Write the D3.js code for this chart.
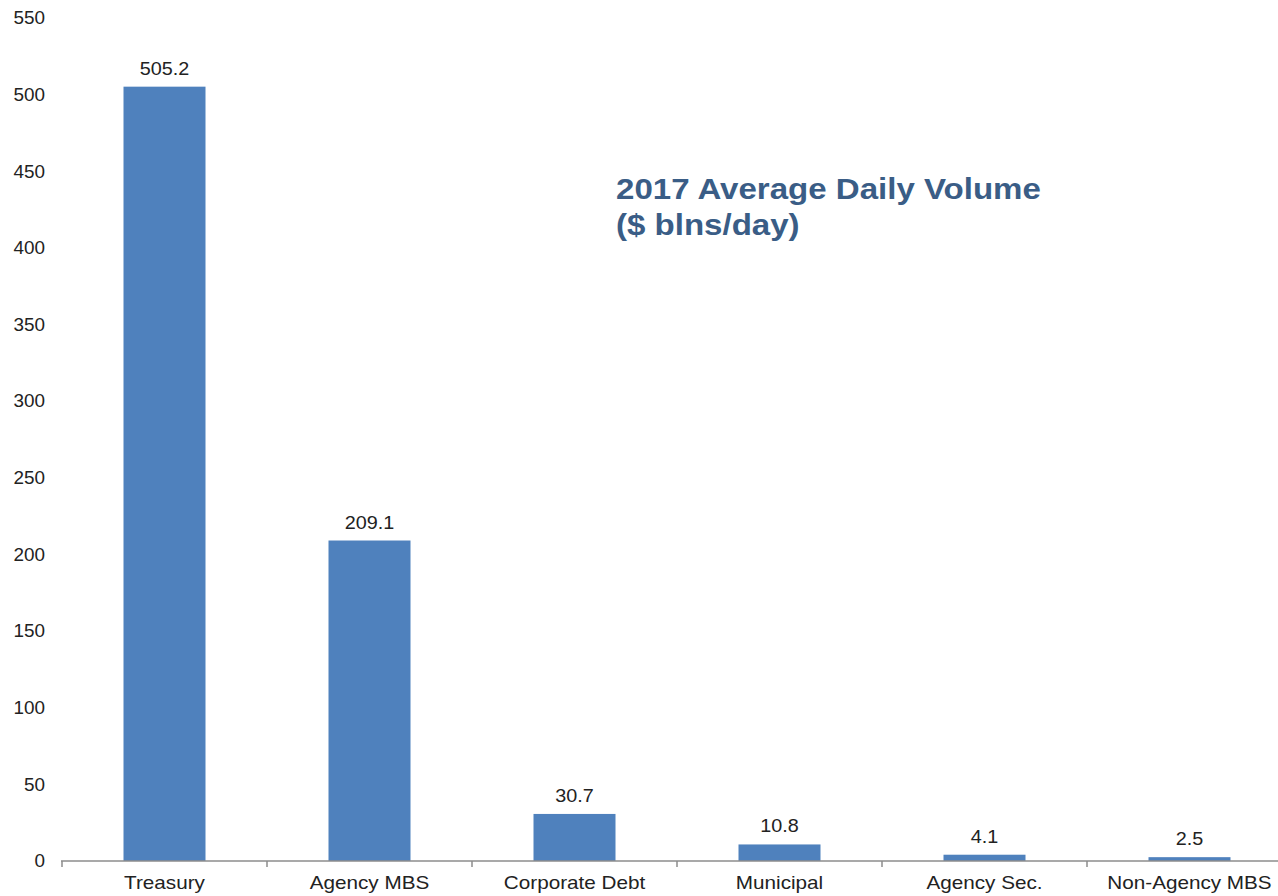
<!DOCTYPE html>
<html>
<head>
<meta charset="utf-8">
<script src="https://cdn.jsdelivr.net/npm/d3@7"></script>
<style>
  html, body { margin: 0; padding: 0; background: #fff; }
  svg { display: block; font-family: "Liberation Sans", Arial, sans-serif; }
</style>
</head>
<body>
<svg id="chart" width="1278" height="896"></svg>
<script>
// Average daily trading volume by market, 2017 ($ billions/day)
const categories = ["Treasury", "Agency MBS", "Corporate Debt", "Municipal", "Agency Sec.", "Non-Agency MBS"];
const volumes = [505.2, 209.1, 30.7, 10.8, 4.1, 2.5];
const yTicks = [0, 50, 100, 150, 200, 250, 300, 350, 400, 450, 500, 550];
const titleLines = ["2017 Average Daily Volume", "($ blns/day)"];

const svg = d3.select("#chart");

const x = d3.scaleBand().domain(categories).range([62, 1292]).padding(0);
const y = d3.scaleLinear().domain([0, 550]).range([861, 18]);

// text is drawn slightly wide (horizontal stretch) to suit the layout
const place = (px, py, sx) => `translate(${px},${py}) scale(${sx},1)`;

// y tick labels (no axis line)
svg.append("g").selectAll("text")
  .data(yTicks)
  .join("text")
  .attr("transform", d => place(45, y(d), 1.05))
  .attr("dy", "0.35em")
  .attr("text-anchor", "end")
  .attr("font-size", 18)
  .attr("fill", "#222")
  .text(d => d);

// bars
const barFrac = 0.4;
svg.append("g").selectAll("rect")
  .data(volumes)
  .join("rect")
  .attr("x", (d, i) => x(categories[i]) + x.bandwidth() * (1 - barFrac) / 2)
  .attr("width", x.bandwidth() * barFrac)
  .attr("y", d => y(d))
  .attr("height", d => y(0) - y(d))
  .attr("fill", "#4f81bd");

// value labels
svg.append("g").selectAll("text")
  .data(volumes)
  .join("text")
  .attr("transform", (d, i) => place(x(categories[i]) + x.bandwidth() / 2, y(d) - 12, 1.1))
  .attr("text-anchor", "middle")
  .attr("font-size", 18)
  .attr("fill", "#222")
  .text(d => d.toFixed(1));

// x axis with ticks at band boundaries
const xAxis = svg.append("g");
xAxis.append("line")
  .attr("x1", 61).attr("x2", 1292)
  .attr("y1", y(0)).attr("y2", y(0))
  .attr("stroke", "#8c8c8c").attr("stroke-width", 1.5);
const boundaries = categories.map(c => x(c));
xAxis.selectAll("line.tick")
  .data(boundaries)
  .join("line")
  .attr("class", "tick")
  .attr("x1", d => d).attr("x2", d => d)
  .attr("y1", y(0)).attr("y2", y(0) + 6)
  .attr("stroke", "#8c8c8c").attr("stroke-width", 1.5);
xAxis.selectAll("text")
  .data(categories)
  .join("text")
  .attr("transform", d => place(x(d) + x.bandwidth() / 2, 889, 1.15))
  .attr("text-anchor", "middle")
  .attr("font-size", 18)
  .attr("fill", "#222")
  .text(d => d);

// title
svg.append("g").selectAll("text")
  .data(titleLines)
  .join("text")
  .attr("transform", (d, i) => place(616, 199 + i * 36, 1.14))
  .attr("font-size", 29)
  .attr("font-weight", "bold")
  .attr("fill", "#3a5d86")
  .text(d => d);
</script>
</body>
</html>
